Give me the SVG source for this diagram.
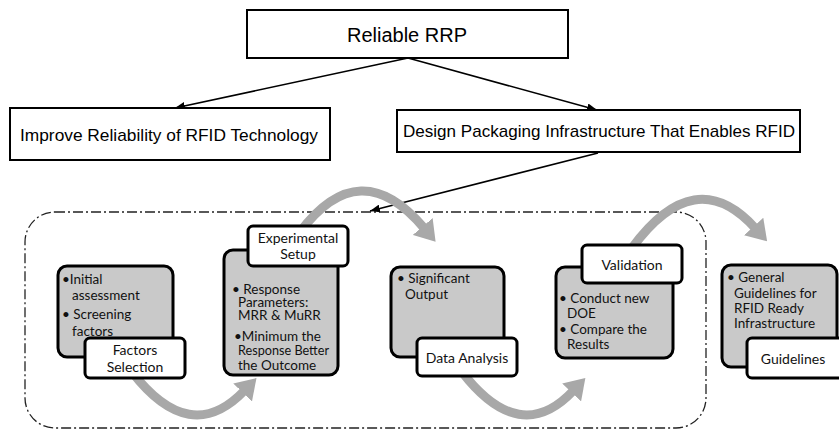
<svg xmlns="http://www.w3.org/2000/svg" width="839" height="432" viewBox="0 0 839 432">
<style>
.top{fill:#fff;stroke:#000;stroke-width:2}
.ttext{font-family:"Liberation Sans",Arial,sans-serif;fill:#000;text-anchor:middle}
.gray{fill:#c9c9c9;stroke:#000;stroke-width:3}
.lab{fill:#fff;stroke:#000;stroke-width:3}
.body{font-family:Lato,"Open Sans",sans-serif;font-size:13.5px;fill:#111}
.ltext{font-family:Lato,"Open Sans",sans-serif;font-size:14px;fill:#111;text-anchor:middle}
.blk{stroke:#000;stroke-width:1.6;fill:none}
.arc{stroke:#a8a8a8;stroke-width:9;fill:none}
.frame{fill:none;stroke:#222;stroke-width:1.3;stroke-dasharray:10 3 2 3}
</style>
<defs>
<marker id="ah" viewBox="0 0 10 8" refX="10" refY="4" markerWidth="10" markerHeight="8" markerUnits="userSpaceOnUse" orient="auto">
<path d="M0,0 L10,4 L0,8 z" fill="#000"/>
</marker>
<marker id="gh" viewBox="0 0 20 26" refX="2" refY="13" markerWidth="20" markerHeight="26" markerUnits="userSpaceOnUse" orient="auto">
<path d="M0,0 L20,13 L0,26 z" fill="#a8a8a8"/>
</marker>
</defs>

<rect class="frame" x="25" y="212" width="681" height="216" rx="30"/>

<g id="connectors">
<line class="blk" x1="408" y1="58" x2="175" y2="108" marker-end="url(#ah)"/>
<line class="blk" x1="408" y1="58" x2="597" y2="110" marker-end="url(#ah)"/>
<line class="blk" x1="598" y1="153" x2="370" y2="211" marker-end="url(#ah)"/>
<path class="arc" d="M132,372 Q190,447 244,391" marker-end="url(#gh)"/>
<path class="arc" d="M300,232 Q360,152 424,228" marker-end="url(#gh)"/>
<path class="arc" d="M462,372 Q520,447 573,391" marker-end="url(#gh)"/>
<path class="arc" d="M632,248 Q695,162 755,228" marker-end="url(#gh)"/>
</g>

<g id="reliable-rrp">
<rect class="top" x="247" y="10" width="321" height="48"/>
<text class="ttext" x="407" y="42" font-size="20">Reliable RRP</text>
</g>
<g id="improve-reliability">
<rect class="top" x="10" y="108" width="320" height="52"/>
<text class="ttext" x="169" y="141" font-size="17" textLength="298" lengthAdjust="spacingAndGlyphs">Improve Reliability of RFID Technology</text>
</g>
<g id="design-packaging">
<rect class="top" x="397" y="110" width="403" height="42"/>
<text class="ttext" x="599" y="137" font-size="17" textLength="392" lengthAdjust="spacingAndGlyphs">Design Packaging Infrastructure That Enables RFID</text>
</g>

<g id="factors-selection">
<rect class="gray" x="58" y="266" width="115" height="91" rx="9"/>
<text class="body" x="62" y="284">•Initial</text>
<text class="body" x="72" y="300">assessment</text>
<text class="body" x="62" y="319">• Screening</text>
<text class="body" x="72" y="336">factors</text>
<rect class="lab" x="85" y="338" width="100" height="40" rx="5"/>
<text class="ltext" x="135" y="355">Factors</text>
<text class="ltext" x="135" y="372">Selection</text>
</g>

<g id="experimental-setup">
<rect class="gray" x="224" y="250" width="114" height="125" rx="9"/>
<text class="body" x="232" y="294" font-size="13">• Response</text>
<text class="body" x="238" y="307" font-size="13">Parameters:</text>
<text class="body" x="238" y="320" font-size="13">MRR &amp; MuRR</text>
<text class="body" x="234" y="341" font-size="13">•Minimum the</text>
<text class="body" x="238" y="355" font-size="13" textLength="91" lengthAdjust="spacingAndGlyphs">Response Better</text>
<text class="body" x="238" y="370" font-size="13">the Outcome</text>
<rect class="lab" x="248" y="226" width="100" height="40" rx="5"/>
<text class="ltext" x="298" y="243">Experimental</text>
<text class="ltext" x="298" y="259">Setup</text>
</g>

<g id="data-analysis">
<rect class="gray" x="391" y="267" width="113" height="90" rx="9"/>
<text class="body" x="397" y="283">• Significant</text>
<text class="body" x="405" y="299">Output</text>
<rect class="lab" x="417" y="338" width="100" height="38" rx="5"/>
<text class="ltext" x="467" y="363">Data Analysis</text>
</g>

<g id="validation">
<rect class="gray" x="556" y="267" width="117" height="91" rx="9"/>
<text class="body" x="559" y="303">• Conduct new</text>
<text class="body" x="567" y="318">DOE</text>
<text class="body" x="559" y="334">• Compare the</text>
<text class="body" x="567" y="349">Results</text>
<rect class="lab" x="582" y="245" width="100" height="38" rx="5"/>
<text class="ltext" x="632" y="270">Validation</text>
</g>

<g id="guidelines">
<rect class="gray" x="722" y="265" width="115" height="102" rx="9"/>
<text class="body" x="727" y="282">• General</text>
<text class="body" x="734" y="298">Guidelines for</text>
<text class="body" x="734" y="313">RFID Ready</text>
<text class="body" x="734" y="328">Infrastructure</text>
<rect class="lab" x="747" y="338" width="100" height="40" rx="5"/>
<text class="ltext" x="793" y="364">Guidelines</text>
</g>
</svg>
